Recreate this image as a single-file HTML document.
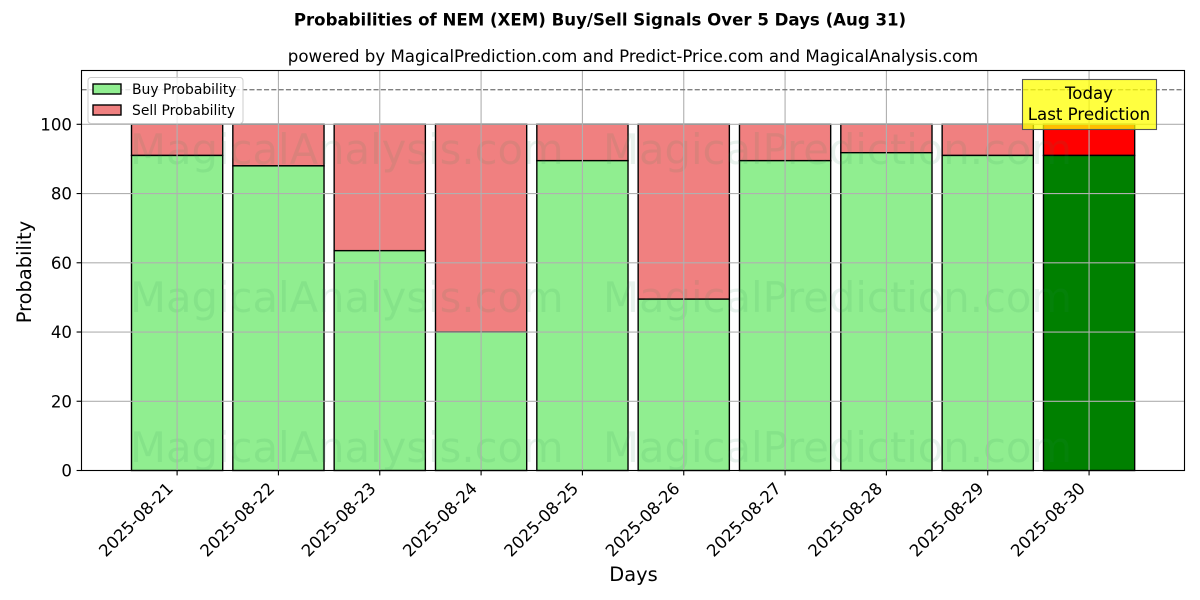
<!DOCTYPE html>
<html lang="en">
<head>
<meta charset="utf-8">
<title>Probabilities of NEM (XEM) Buy/Sell Signals</title>
<style>
html,body{margin:0;padding:0;background:#fff}
svg{display:block}
text{font-family:"DejaVu Sans","Liberation Sans",sans-serif;fill:#000}
</style>
</head>
<body>
<svg id="chart" width="1200" height="600" viewBox="0 0 1200 600" xmlns="http://www.w3.org/2000/svg">
  <rect x="0" y="0" width="1200" height="600" fill="#fff"/>
  <text x="600" y="25.5" text-anchor="middle" font-size="16.6" font-weight="700">Probabilities of NEM (XEM) Buy/Sell Signals Over 5 Days (Aug 31)</text>
  <text x="633" y="62" text-anchor="middle" font-size="16.63">powered by MagicalPrediction.com and Predict-Price.com and MagicalAnalysis.com</text>
  <g id="bars"></g>
  <g id="watermarks" font-size="41.7" opacity="0.1">
    <text x="130" y="164" style="fill:#2e8b57">MagicalAnalysis.com</text>
    <text x="603" y="164" style="fill:#2e8b57">MagicalPrediction.com</text>
    <text x="130" y="312" style="fill:#2e8b57">MagicalAnalysis.com</text>
    <text x="603" y="312" style="fill:#2e8b57">MagicalPrediction.com</text>
    <text x="130" y="462" style="fill:#2e8b57">MagicalAnalysis.com</text>
    <text x="603" y="462" style="fill:#2e8b57">MagicalPrediction.com</text>
  </g>
  <g id="grid"></g>
  <line id="refLine" x1="81.5" x2="1184.5" stroke="#808080" stroke-width="1.39" stroke-dasharray="5.1 2.2"/>
  <g id="axes"></g>
  <rect x="81.5" y="70.5" width="1103" height="400" fill="none" stroke="#000" stroke-width="1.11"/>
  <g>
    <rect x="1022.5" y="79.5" width="134" height="50" fill="#ffff00" fill-opacity="0.75" stroke="#555" stroke-width="1.1"/>
    <text x="1089" y="99" text-anchor="middle" font-size="16.63">Today</text>
    <text x="1089" y="120" text-anchor="middle" font-size="16.63">Last Prediction</text>
  </g>
  <g>
    <rect x="88" y="77.5" width="155" height="46" rx="3" fill="#fff" fill-opacity="0.8" stroke="#ccc" stroke-width="1"/>
    <rect x="93" y="84" width="28" height="10" fill="#90ee90" stroke="#000" stroke-width="1.39"/>
    <text x="132" y="94" font-size="13.9">Buy Probability</text>
    <rect x="93" y="105" width="28" height="10" fill="#f08080" stroke="#000" stroke-width="1.39"/>
    <text x="132" y="115" font-size="13.9">Sell Probability</text>
  </g>
  <text transform="translate(31 272) rotate(-90)" text-anchor="middle" font-size="19.4">Probability</text>
  <text x="633.5" y="581" text-anchor="middle" font-size="19.4">Days</text>
</svg>
<script>
const categories = ["2025-08-21","2025-08-22","2025-08-23","2025-08-24","2025-08-25","2025-08-26","2025-08-27","2025-08-28","2025-08-29","2025-08-30"];
const buyValues = [91, 88, 63.5, 40, 89.5, 49.5, 89.5, 91.8, 91, 91];
const sellValues = [9, 12, 36.5, 60, 10.5, 50.5, 10.5, 8.2, 9, 9];
const yTickLabels = [0, 20, 40, 60, 80, 100];
const referenceLevel = 110;

const NS = 'http://www.w3.org/2000/svg';
const xScale = i => 177.1 + i * 101.33;
const yScale = v => 470.5 - v * 3.462;
const barWidth = 91.2;
const lastIndex = categories.length - 1;

function make(tag, attrs, parent) {
  const el = document.createElementNS(NS, tag);
  for (const k in attrs) el.setAttribute(k, attrs[k]);
  parent.appendChild(el);
  return el;
}

const barsG = document.getElementById('bars');
const gridG = document.getElementById('grid');
const axesG = document.getElementById('axes');

categories.forEach((c, i) => {
  const x = xScale(i) - barWidth / 2;
  const buyTop = yScale(buyValues[i]);
  const sellTop = yScale(buyValues[i] + sellValues[i]);
  const isLast = i === lastIndex;

  const sell = make('rect', {x: x, y: sellTop, width: barWidth, height: buyTop - sellTop, fill: isLast ? '#ff0000' : '#f08080', stroke: '#000', 'stroke-width': 1.39}, barsG);
  
  

  const buy = make('rect', {x: x, y: buyTop, width: barWidth, height: yScale(0) - buyTop, fill: isLast ? '#008000' : '#90ee90', stroke: '#000', 'stroke-width': 1.39}, barsG);
  
  

  const g = make('line', {x1: xScale(i), x2: xScale(i), y1: 70.5, y2: 470.5, stroke: '#b0b0b0', 'stroke-width': 1.11}, gridG);
  
  

  const t = make('line', {x1: xScale(i), x2: xScale(i), y1: 470.5, y2: 475.4, stroke: '#000', 'stroke-width': 1.11}, axesG);
  
  

  const lab = make('text', {transform: 'translate(' + (xScale(i) - 11.5) + ' 481) rotate(-45)', 'text-anchor': 'end', 'dominant-baseline': 'hanging', 'font-size': 16.63}, axesG);
  
  
  lab.textContent = c;
});

yTickLabels.forEach(v => {
  const y = yScale(v);
  const g = make('line', {x1: 81.5, x2: 1184.5, y1: y, y2: y, stroke: '#b0b0b0', 'stroke-width': 1.11}, gridG);
  
  

  const t = make('line', {x1: 76.6, x2: 81.5, y1: y, y2: y, stroke: '#000', 'stroke-width': 1.11}, axesG);
  
  

  const lab = make('text', {x: 72, y: y + 6, 'text-anchor': 'end', 'font-size': 16.63}, axesG);
  
  
  lab.textContent = v;
});

const ref = document.getElementById('refLine');
ref.setAttribute('y1', yScale(referenceLevel));
ref.setAttribute('y2', yScale(referenceLevel));
</script>
</body>
</html>
